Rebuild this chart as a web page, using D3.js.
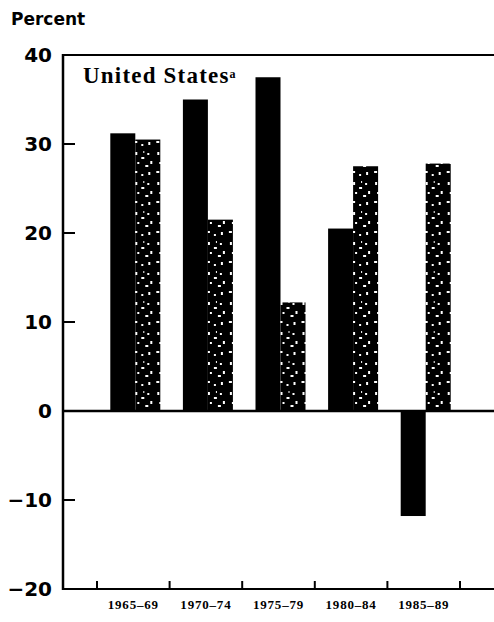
<!DOCTYPE html>
<html>
<head>
<meta charset="utf-8">
<script src="https://cdn.jsdelivr.net/npm/d3@7"></script>
<style>
  body { margin: 0; background: #fff; }
</style>
</head>
<body>
<svg id="chart"></svg>
<script>
const width = 494;
const height = 622;
const margin = { top: 55, right: 0, bottom: 33, left: 63 };

const periods = ["1965-69", "1970-74", "1975-79", "1980-84", "1985-89"];
const solidValues = [31.2, 35.0, 37.5, 20.5, -11.8];
const patternValues = [30.5, 21.5, 12.2, 27.5, 27.8];
const yTicks = [-20, -10, 0, 10, 20, 30, 40];

const svg = d3.select("#chart")
    .attr("width", width)
    .attr("height", height);

// speckled texture for the second series
const defs = svg.append("defs");
const pat = defs.append("pattern")
    .attr("id", "speckle")
    .attr("patternUnits", "userSpaceOnUse")
    .attr("width", 22)
    .attr("height", 30);
pat.append("rect").attr("width", 22).attr("height", 30).attr("fill", "#000");
const specks = [[3, 2, 2, 3], [9, 7, 3, 2], [15, 3, 2, 2], [5, 12, 2, 2], [13, 15, 3, 2],
    [18, 11, 2, 3], [2, 21, 3, 2], [9, 24, 2, 2], [16, 22, 2, 3], [11, 1, 1, 2]];
pat.selectAll("rect.s")
    .data(specks)
    .enter().append("rect")
    .attr("class", "s")
    .attr("x", d => d[0]).attr("y", d => d[1])
    .attr("width", d => d[2]).attr("height", d => d[3])
    .attr("fill", "#fff");

const x = d3.scaleBand()
    .domain(periods)
    .range([97, 460]);

const sub = d3.scaleBand()
    .domain(["solid", "pattern"])
    .range([0, 50]);

const y = d3.scaleLinear()
    .domain([-20, 40])
    .range([height - margin.bottom, margin.top]);

// frame: top line, left axis, bottom axis, zero line
svg.append("line")
    .attr("x1", margin.left).attr("x2", width)
    .attr("y1", y(40)).attr("y2", y(40))
    .attr("stroke", "#000").attr("stroke-width", 2);
svg.append("line")
    .attr("x1", margin.left).attr("x2", width)
    .attr("y1", y(-20)).attr("y2", y(-20))
    .attr("stroke", "#000").attr("stroke-width", 2);
svg.append("line")
    .attr("x1", margin.left).attr("x2", width)
    .attr("y1", y(0)).attr("y2", y(0))
    .attr("stroke", "#000").attr("stroke-width", 2.5);
svg.append("line")
    .attr("x1", margin.left).attr("x2", margin.left)
    .attr("y1", y(40) - 1).attr("y2", y(-20) + 1)
    .attr("stroke", "#000").attr("stroke-width", 2.5);

// y ticks point into the plot
svg.selectAll("line.ytick")
    .data(yTicks.filter(d => d > -20 && d < 40 && d !== 0))
    .enter().append("line")
    .attr("class", "ytick")
    .attr("x1", margin.left).attr("x2", margin.left + 12)
    .attr("y1", d => y(d)).attr("y2", d => y(d))
    .attr("stroke", "#000").attr("stroke-width", 2);

svg.selectAll("text.ylab")
    .data(yTicks)
    .enter().append("text")
    .attr("class", "ylab")
    .attr("x", 52)
    .attr("y", d => y(d))
    .attr("dy", "0.36em")
    .attr("text-anchor", "end")
    .style("font-family", "'DejaVu Sans', sans-serif")
    .style("font-weight", "bold")
    .style("font-size", "20px")
    .text(d => d < 0 ? "\u2212" + Math.abs(d) : d);

// x ticks at band edges, pointing up
const xEdges = periods.map(p => x(p)).concat([x.range()[1]]);
svg.selectAll("line.xtick")
    .data(xEdges)
    .enter().append("line")
    .attr("class", "xtick")
    .attr("x1", d => d).attr("x2", d => d)
    .attr("y1", y(-20)).attr("y2", y(-20) - 8)
    .attr("stroke", "#000").attr("stroke-width", 2);

svg.selectAll("text.xlab")
    .data(periods)
    .enter().append("text")
    .attr("class", "xlab")
    .attr("x", d => x(d) + x.bandwidth() / 2)
    .attr("y", y(-20) + 20)
    .attr("text-anchor", "middle")
    .style("font-family", "'Liberation Serif', serif")
    .style("font-weight", "bold")
    .style("font-size", "13px")
    .style("letter-spacing", "0.8px")
    .text(d => d.replace("-", "\u2013"));

// bars
const rows = periods.map((p, i) => ({ period: p, solid: solidValues[i], pattern: patternValues[i] }));
const groups = svg.selectAll("g.group")
    .data(rows)
    .enter().append("g")
    .attr("class", "group")
    .attr("transform", d => `translate(${x(d.period) + x.bandwidth() / 2 - 23}, 0)`);

groups.selectAll("rect")
    .data(d => ["solid", "pattern"].map(k => ({ key: k, value: d[k] })))
    .enter().append("rect")
    .attr("x", d => sub(d.key))
    .attr("y", d => y(Math.max(0, d.value)))
    .attr("width", sub.bandwidth())
    .attr("height", d => Math.abs(y(d.value) - y(0)))
    .attr("fill", d => d.key === "solid" ? "#000" : "url(#speckle)");

// titles
svg.append("text")
    .attr("x", 11)
    .attr("y", 25)
    .style("font-family", "'DejaVu Sans', sans-serif")
    .style("font-weight", "600")
    .style("font-size", "17px")
    .text("Percent");

const title = svg.append("text")
    .attr("x", 83)
    .attr("y", 83)
    .style("font-family", "'Liberation Serif', serif")
    .style("font-weight", "bold")
    .style("font-size", "23px")
    .style("letter-spacing", "1.2px")
    .text("United States");
title.append("tspan")
    .attr("dy", "-0.45em")
    .style("font-size", "12px")
    .text("a");
</script>
</body>
</html>
